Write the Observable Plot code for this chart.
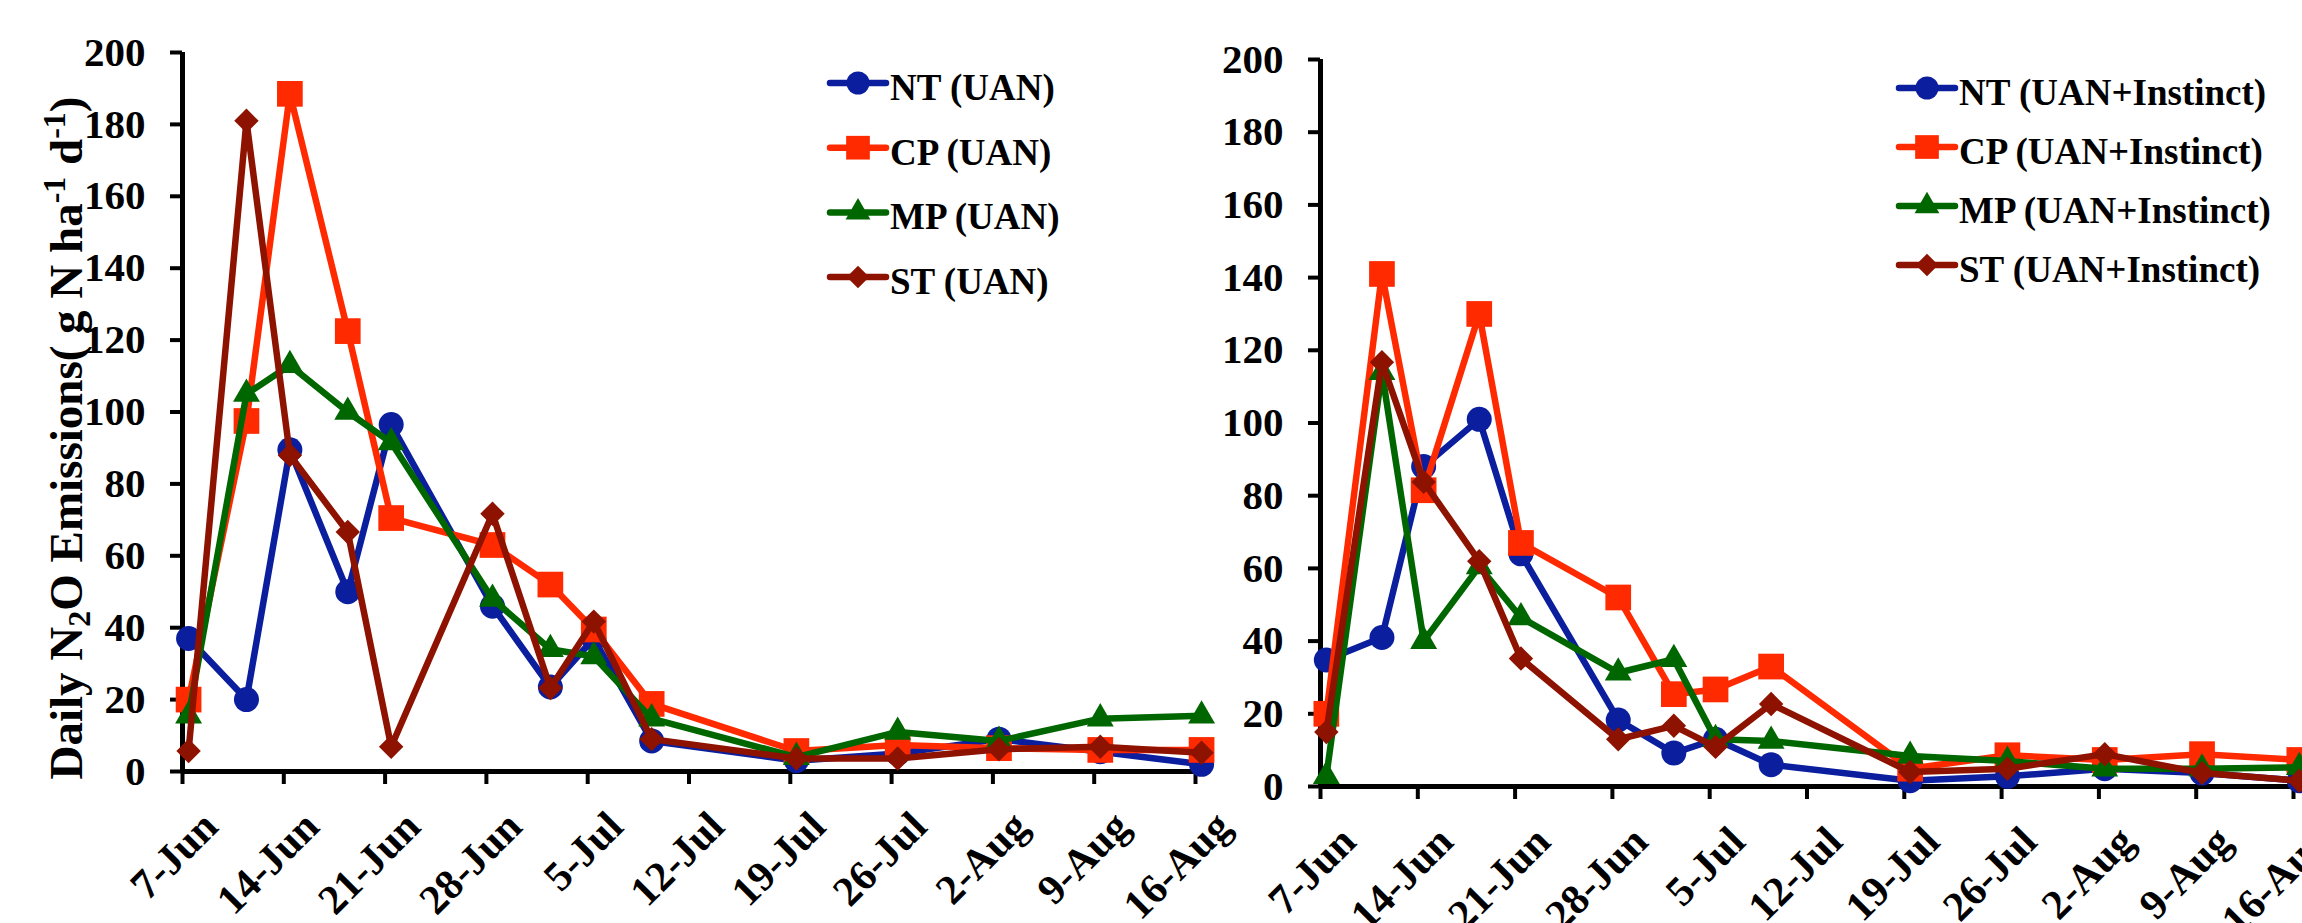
<!DOCTYPE html>
<html><head><meta charset="utf-8">
<script src="https://cdn.jsdelivr.net/npm/d3@7"></script>
<script src="https://cdn.jsdelivr.net/npm/@observablehq/plot@0.6"></script>
<style>
html,body{margin:0;padding:0;background:#fff;width:2302px;height:923px;overflow:hidden}
#wrap{position:relative;width:2302px;height:923px}
.panel{position:absolute;top:0}
</style></head><body><div id="wrap"></div>
<script>
// ---- data ----
const dates = ["7-Jun","11-Jun","14-Jun","18-Jun","21-Jun","28-Jun","2-Jul","5-Jul","9-Jul","19-Jul","26-Jul","2-Aug","9-Aug","16-Aug"];
const tickLabels = ["7-Jun","14-Jun","21-Jun","28-Jun","5-Jul","12-Jul","19-Jul","26-Jul","2-Aug","9-Aug","16-Aug"];
const yTicks = [0,20,40,60,80,100,120,140,160,180,200];
const seriesNames = ["NT","CP","MP","ST"];
const seriesColors = ["#0A1E9E","#FF2A00","#006600","#8E1200"];

const uanNT = [37, 20, 89.5, 50, 96.5, 46, 23.5, 37, 8.5, 3, 5, 9, 5.5, 2];
const uanCP = [20, 97.5, 188.5, 122.5, 70.5, 63, 52, 39.5, 18.8, 5.7, 7.4, 6.5, 6, 6];
const uanMP = [15.5, 105, 113, 100, 91.5, 48, 34, 32, 14.7, 4, 11, 8.5, 14.7, 15.5];
const uanST = [5.7, 181, 88, 66.6, 6.9, 71.7, 23.2, 41.7, 9, 3.6, 3.6, 6.2, 6.9, 5.2];

const insNT = [34.8, 41, 88, 101, 64, 18.3, 9.2, 13, 6, 1.6, 2.8, 4.9, 3.7, 1.6];
const insCP = [20, 141, 81.5, 130, 67, 52, 25.4, 26.7, 33, 4.9, 8.6, 7.3, 8.9, 7.3];
const insMP = [2.8, 114, 40, 60.5, 46.5, 31.3, 35, 13, 12.5, 8.4, 7, 4.9, 4.9, 5.3];
const insST = [15, 116.7, 83.8, 62, 35.2, 13, 16.7, 10.9, 22.7, 4, 4.9, 8.9, 3.7, 1.6];

// ---- helpers ----
const monthStart = {Jun: -7, Jul: 23, Aug: 54};
function dayOf(s) { const [d, m] = s.split("-"); return +d + monthStart[m]; }
const pointShift = 0.42; // points sit slightly after the date tick
const tickDays = tickLabels.map(dayOf);
const font = "'Liberation Serif','Times New Roman',serif";
const symbols = ["circle","square","triangle","diamond2"];
const symbolFns = [d3.symbolCircle, d3.symbolSquare, d3.symbolTriangle, d3.symbolDiamond2];
const radii = [12.5, 14.5, 10, 11];

function rows(vals) { return dates.map((d, i) => ({x: dayOf(d) + pointShift, y: vals[i]})); }

function panel(cfg) {
  const marks = [
    Plot.ruleY([0], {x1: 0, x2: cfg.axisEnd, stroke: "black", strokeWidth: 5}),
    Plot.ruleX([0], {y1: 0, y2: 200, stroke: "black", strokeWidth: 5}),
    Plot.axisY({ticks: yTicks, tickSize: 12, tickPadding: 25, fontSize: 41, fontWeight: "bold", strokeWidth: 4, label: null}),
    Plot.axisX({ticks: tickDays, tickSize: 13, strokeWidth: 4, tickFormat: () => "", label: null}),
    Plot.text(tickDays, {x: d => d, y: () => 0, text: (d, i) => tickLabels[i], rotate: -45, textAnchor: "end", lineAnchor: "middle", dx: 28, dy: 48, fontSize: 42, fontWeight: "bold"})
  ];
  cfg.series.forEach((vals, k) => {
    const data = rows(vals);
    marks.push(Plot.line(data, {x: "x", y: "y", stroke: seriesColors[k], strokeWidth: 6.5, strokeLinejoin: "round"}));
    marks.push(Plot.dot(data, {x: "x", y: "y", symbol: symbols[k], r: radii[k], fill: seriesColors[k], stroke: "none"}));
  });
  const svg = Plot.plot({
    width: cfg.width, height: 923,
    marginLeft: cfg.ml, marginRight: cfg.mr, marginTop: cfg.mt, marginBottom: cfg.mb,
    x: {domain: [0, 70], axis: null},
    y: {domain: [0, 200], axis: null},
    style: {fontFamily: font, background: "transparent", overflow: "visible", color: "black"},
    marks
  });
  // legend
  const g = d3.select(svg).append("g").attr("font-family", font).attr("font-weight", "bold").attr("text-anchor", "start");
  seriesNames.forEach((n, k) => {
    const cy = cfg.legY + k * cfg.legStep;
    g.append("line").attr("x1", cfg.legX).attr("x2", cfg.legX + 56).attr("y1", cy).attr("y2", cy)
      .attr("stroke", seriesColors[k]).attr("stroke-width", 6.5).attr("stroke-linecap", "round");
    g.append("path").attr("d", d3.symbol(symbolFns[k], Math.PI * radii[k] * radii[k] * 0.85)())
      .attr("transform", `translate(${cfg.legX + 28},${cy})`).attr("fill", seriesColors[k]);
    g.append("text").attr("x", cfg.legX + 60).attr("y", cy + 17).attr("font-size", 37)
      .attr("text-anchor", "start").attr("fill", "black").text(`${n} (${cfg.tag})`);
  });
  const div = document.createElement("div");
  div.className = "panel";
  div.style.left = cfg.left + "px";
  div.appendChild(svg);
  document.getElementById("wrap").appendChild(div);
  return svg;
}

const leftSvg = panel({left: 0, width: 1240, ml: 182, mr: 45, mt: 52, mb: 152, axisEnd: 70.1,
  series: [uanNT, uanCP, uanMP, uanST], tag: "UAN", legX: 830, legY: 83, legStep: 64.7});
panel({left: 1240, width: 1062, ml: 80, mr: 9, mt: 59, mb: 137, axisEnd: 71,
  series: [insNT, insCP, insMP, insST], tag: "UAN+Instinct", legX: 1899 - 1240, legY: 88, legStep: 59});

// y-axis title on left panel
const t = d3.select(leftSvg).append("text")
  .attr("transform", "translate(82,438) rotate(-90)")
  .attr("text-anchor", "middle").attr("font-family", font).attr("font-weight", "bold")
  .attr("font-size", 47).attr("fill", "black");
t.append("tspan").text("Daily N");
t.append("tspan").attr("font-size", 32).attr("dy", 8).text("2");
t.append("tspan").attr("dy", -8).text("O Emissions( g N ha");
t.append("tspan").attr("font-size", 32).attr("dy", -17).text("-1");
t.append("tspan").attr("dy", 17).text(" d");
t.append("tspan").attr("font-size", 32).attr("dy", -17).text("-1");
t.append("tspan").attr("dy", 17).text(")");
</script></body></html>
